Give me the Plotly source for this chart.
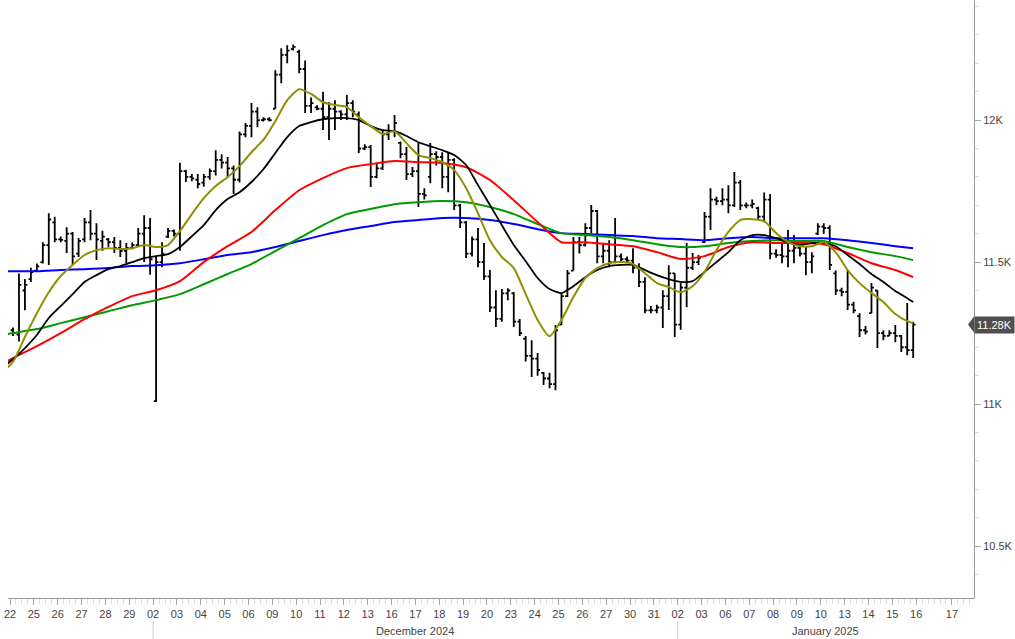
import plotly.graph_objects as go

# ---------------- data ----------------
day_labels = ['22', '25', '26', '27', '28', '29', '02', '03', '04', '05', '06', '09', '10', '11',
              '12', '13', '16', '17', '18', '19', '20', '23', '24', '25', '26', '27', '30', '31',
              '02', '03', '06', '07', '08', '09', '10', '13', '14', '15', '16']
future_label = '17'
month_labels = ['December 2024', 'January 2025']
month_start_day = [6, 28]   # index in day_labels where month begins
bars_per_day = 4

open_ = [11260, 11245, 11400, 11440,  11470, 11500, 11560, 11640,  11580, 11575, 11600, 11530,
         11580, 11640, 11600, 11575,  11580, 11570, 11550, 11540,  11550, 11560, 11600, 11620,
         11010, 11500, 11590, 11610,  11600, 11820, 11800, 11790,  11780, 11800, 11820, 11860,
         11850, 11830, 11790, 11950,  11980, 12030, 12000, 12003,  12040, 12160, 12230, 12250,
         12240, 12180, 12050, 12045,  12040, 12010, 12040, 12030,  12020, 12060, 12020, 11900,
         11905, 11800, 11830, 11950,  11960, 11920, 11880, 11810,  11820, 11740, 11800, 11880,
         11870, 11800, 11860, 11700,  11640, 11530, 11580, 11500,  11450, 11340, 11300, 11390,
         11390, 11290, 11230, 11170,  11160, 11110, 11090, 11070,  11280, 11380, 11470, 11570,
         11560, 11620, 11680, 11520,  11540, 11500, 11520, 11510,  11505, 11480, 11430, 11330,
         11330, 11340, 11380, 11460,  11280, 11410, 11480, 11500,  11570, 11660, 11720, 11715,
         11720, 11700, 11780, 11700,  11700, 11690, 11660, 11720,  11530, 11525, 11520, 11540,
         11550, 11530, 11500, 11600,  11625, 11620, 11460, 11400,  11395, 11350, 11310, 11260,
         11320, 11400, 11250, 11240,  11250, 11240, 11200, 11190]
high = [11270, 11460, 11440, 11480,  11495, 11570, 11672, 11660,  11590, 11623, 11606, 11585,
        11655, 11683, 11637, 11610,  11585, 11588, 11577, 11567,  11570, 11620, 11665, 11655,
        11520, 11570, 11620, 11615,  11850, 11825, 11810, 11810,  11810, 11830, 11894, 11880,
        11870, 11840, 11960, 11990,  12060, 12045, 12010, 12010,  12176, 12253, 12264, 12266,
        12248, 12210, 12080, 12052,  12100, 12063, 12070, 12035,  12088, 12070, 12030, 11915,
        11912, 11850, 11965, 11985,  12018, 11925, 11905, 11835,  11919, 11760, 11919, 11890,
        11887, 11885, 11866, 11705,  11645, 11590, 11620, 11567,  11472, 11401, 11405, 11408,
        11395, 11300, 11240, 11225,  11180, 11113, 11110, 11278,  11391, 11472, 11588, 11588,
        11637, 11701, 11683, 11567,  11577, 11655, 11530, 11520,  11549, 11496, 11447, 11345,
        11350, 11401, 11489, 11461,  11426, 11567, 11532, 11525,  11676, 11760, 11730, 11760,
        11771, 11817, 11789, 11710,  11720, 11695, 11745, 11740,  11545, 11567, 11613, 11595,
        11560, 11553, 11535, 11637,  11637, 11630, 11470, 11410,  11472, 11360, 11320, 11275,
        11426, 11401, 11260, 11260,  11278, 11243, 11356, 11290]
low = [11240, 11220, 11330, 11430,  11465, 11495, 11490, 11570,  11570, 11532, 11490, 11518,
       11570, 11577, 11507, 11540,  11553, 11532, 11518, 11497,  11545, 11555, 11500, 11455,
       11007, 11482, 11585, 11590,  11540, 11782, 11785, 11760,  11765, 11790, 11805, 11830,
       11800, 11740, 11780, 11940,  11940, 11975, 11995, 11995,  12040, 12130, 12200, 12245,
       12165, 12025, 12025, 12035,  11965, 11930, 11965, 12000,  12000, 12010, 11884, 11895,
       11764, 11795, 11824, 11930,  11940, 11866, 11789, 11800,  11694, 11720, 11778, 11840,
       11760, 11746, 11683, 11620,  11514, 11520, 11482, 11437,  11324, 11271, 11290, 11366,
       11271, 11240, 11150, 11095,  11100, 11067, 11056, 11049,  11278, 11377, 11470, 11530,
       11555, 11602, 11496, 11496,  11482, 11496, 11500, 11500,  11461, 11412, 11320, 11320,
       11320, 11268, 11331, 11236,  11262, 11341, 11472, 11490,  11567, 11613, 11700, 11700,
       11672, 11694, 11683, 11690,  11690, 11648, 11640, 11510,  11515, 11496, 11482, 11496,
       11520, 11454, 11461, 11595,  11600, 11472, 11384, 11380,  11331, 11320, 11236, 11245,
       11320, 11197, 11225, 11240,  11218, 11183, 11172, 11162]
close = [11250, 11420, 11420, 11465,  11485, 11560, 11650, 11580,  11578, 11600, 11520, 11575,
         11640, 11600, 11580, 11590,  11570, 11550, 11540, 11550,  11560, 11600, 11620, 11510,
         11500, 11530, 11610, 11600,  11820, 11800, 11795, 11775,  11800, 11820, 11860, 11850,
         11830, 11790, 11950, 11980,  12030, 12000, 12003, 12000,  12160, 12230, 12245, 12258,
         12180, 12050, 12060, 12040,  12010, 12040, 12030, 12020,  12060, 12030, 11900, 11905,
         11800, 11830, 11950, 11960,  11990, 11880, 11810, 11820,  11740, 11735, 11880, 11870,
         11800, 11860, 11700, 11640,  11530, 11580, 11500, 11450,  11340, 11300, 11390, 11400,
         11290, 11250, 11170, 11160,  11120, 11090, 11070, 11260,  11380, 11460, 11570, 11560,
         11620, 11680, 11520, 11540,  11500, 11520, 11510, 11505,  11480, 11430, 11330, 11330,
         11340, 11380, 11460, 11280,  11410, 11480, 11500, 11515,  11660, 11720, 11715, 11720,
         11700, 11780, 11700, 11700,  11705, 11660, 11720, 11530,  11525, 11520, 11540, 11550,
         11530, 11500, 11520, 11625,  11620, 11490, 11400, 11395,  11350, 11330, 11260, 11255,
         11410, 11250, 11240, 11250,  11240, 11200, 11190, 11280]

# moving averages, read at sample bars
fast_bars = [-1] + list(range(0, 152, 2)) + [151]
ma_olive = [11127,
            11148, 11236, 11320, 11394, 11451, 11490, 11525, 11542, 11549, 11546,
            11549, 11560, 11553, 11560, 11609, 11669, 11725, 11768, 11799, 11838,
            11887, 11930, 11996, 12070, 12109, 12092, 12063, 12053, 12046, 12010,
            11979, 11951, 11961, 11919, 11877, 11866, 11852, 11824, 11761, 11672,
            11577, 11518, 11479, 11387, 11296, 11239, 11296, 11377, 11444, 11479,
            11496, 11500, 11493, 11461, 11426, 11412, 11394, 11415, 11465, 11542,
            11606, 11648, 11651, 11644, 11602, 11570, 11556, 11556, 11570, 11535,
            11472, 11426, 11391, 11359, 11317, 11292,
            11285]
ma_black = [11141,
            11158, 11197, 11243, 11303, 11345, 11387, 11430, 11454, 11475, 11486,
            11500, 11514, 11521, 11528, 11553, 11591, 11630, 11683, 11722, 11746,
            11782, 11827, 11884, 11940, 11979, 11993, 12003, 12007, 12007, 12000,
            11979, 11965, 11961, 11944, 11922, 11908, 11894, 11877, 11842, 11771,
            11701, 11630, 11560, 11503, 11444, 11405, 11391, 11415, 11447, 11472,
            11486, 11490, 11490, 11472, 11454, 11440, 11430, 11433, 11465, 11500,
            11535, 11577, 11595, 11595, 11584, 11570, 11560, 11567, 11567, 11556,
            11525, 11493, 11458, 11430, 11398, 11373,
            11359]
slow_bars = [-1] + list(range(0, 152, 4)) + [151]
ma_red = [11151,
          11162, 11204, 11250, 11299, 11342, 11380, 11401, 11433, 11500, 11556,
          11606, 11683, 11753, 11796, 11831, 11845, 11856, 11852, 11849, 11834,
          11789, 11718, 11641, 11570, 11570, 11563, 11556, 11535, 11511, 11521,
          11553, 11570, 11567, 11567, 11563, 11532, 11496, 11472,
          11447]
ma_green = [11246,
            11250, 11264, 11285, 11306, 11327, 11348, 11366, 11387, 11422, 11458,
            11493, 11539, 11584, 11630, 11669, 11687, 11704, 11711, 11715, 11711,
            11694, 11669, 11634, 11602, 11595, 11588, 11577, 11563, 11553, 11556,
            11567, 11574, 11577, 11574, 11574, 11553, 11535, 11521,
            11507]
ma_blue = [11468,
           11468, 11468, 11472, 11475, 11479, 11486, 11489, 11496, 11510, 11525,
           11535, 11553, 11574, 11595, 11613, 11627, 11641, 11648, 11655, 11655,
           11648, 11634, 11616, 11602, 11599, 11595, 11592, 11584, 11581, 11577,
           11584, 11588, 11584, 11584, 11584, 11577, 11567, 11556,
           11549]

y_ticks = [10500, 11000, 11500, 12000]

assert len(open_) == len(high) == len(low) == len(close) == len(day_labels[:-1]) * bars_per_day
assert len(ma_olive) == len(fast_bars) and len(ma_black) == len(fast_bars)
assert len(ma_red) == len(slow_bars) == len(ma_green) == len(ma_blue)

# ---------------- figure ----------------
FONT = "Liberation Sans Narrow, Arial Narrow, Liberation Sans, Arial, sans-serif"
FS = 11
bar_x = list(range(len(close)))

fig = go.Figure()
for vals, col, w in [(ma_blue, '#0000ff', 2), (ma_green, '#009a00', 2), (ma_red, '#ff0000', 2)]:
    fig.add_trace(go.Scatter(x=slow_bars, y=vals, mode='lines',
                             line=dict(color=col, width=w, shape='spline', smoothing=0.6),
                             hoverinfo='skip'))
for vals, col, w in [(ma_black, '#000000', 1.8), (ma_olive, '#8f8f00', 2)]:
    fig.add_trace(go.Scatter(x=fast_bars, y=vals, mode='lines',
                             line=dict(color=col, width=w, shape='spline', smoothing=0.6),
                             hoverinfo='skip'))

fig.add_trace(go.Ohlc(x=bar_x, open=open_, high=high, low=low, close=close,
                      increasing=dict(line=dict(color='black', width=1.8)),
                      decreasing=dict(line=dict(color='black', width=1.8)),
                      tickwidth=0.4, hoverinfo='skip'))

n_days = len(day_labels)
tickvals = [bars_per_day * j - 0.5 for j in range(n_days)] + [bars_per_day * (n_days + 0.5) - 0.5]
ticktext = day_labels + [future_label]
x_range = [-0.84, 161.2]

fig.update_layout(
    width=1015, height=639,
    margin=dict(l=8, r=41, t=0, b=41),
    paper_bgcolor='white', plot_bgcolor='white',
    showlegend=False,
    font=dict(family=FONT, size=FS, color='#444'),
    xaxis=dict(range=x_range, tickmode='array', tickvals=tickvals, ticktext=ticktext,
               ticks='outside', ticklen=6, tickcolor='#aaaaaa', tickwidth=1,
               showline=True, linecolor='#9a9a9a', linewidth=1,
               showgrid=False, zeroline=False, rangeslider=dict(visible=False),
               tickfont=dict(family=FONT, size=FS, color='#444'),
               minor=dict(ticks='outside', ticklen=5, tickcolor='#dddddd', dtick=1, tick0=-0.5,
                          showgrid=False)),
    yaxis=dict(side='right', range=[10317, 12423], tickmode='array', tickvals=y_ticks,
               ticktext=[f"{v/1000:g}K" for v in y_ticks],
               ticks='outside', ticklen=6, tickcolor='#aaaaaa',
               showline=True, linecolor='#9a9a9a', linewidth=1,
               showgrid=False, zeroline=False,
               tickfont=dict(family=FONT, size=FS, color='#444'),
               minor=dict(ticks='outside', ticklen=4, tickcolor='#dddddd', dtick=100,
                          showgrid=False)),
)

# month labels and separators
month_bounds = [bars_per_day * d - 0.5 for d in month_start_day] + [x_range[1]]
for k, lab in enumerate(month_labels):
    mid = (month_bounds[k] + month_bounds[k + 1]) / 2
    fig.add_annotation(x=mid, xref='x', y=0, yref='paper', yanchor='middle', yshift=-33,
                       text=lab, showarrow=False, font=dict(family=FONT, size=FS, color='#444'))
    fig.add_shape(type='line', xref='x', yref='paper', x0=month_bounds[k], x1=month_bounds[k],
                  y0=-23 / 598, y1=-41 / 598, line=dict(color='#cccccc', width=1))

# last price marker
last = close[-1]
fig.add_annotation(x=1, xref='paper', xanchor='left', y=last, yref='y', yanchor='middle',
                   text=f"{last/1000:.2f}K", showarrow=False, bgcolor='#4f4f4f', borderpad=2,
                   font=dict(family=FONT, size=FS, color='white'))
fig.add_shape(type='path', xref='paper', xsizemode='pixel', xanchor=1,
              yref='y', ysizemode='pixel', yanchor=last,
              path='M -6,0 L 0,8 L 0,-8 Z', fillcolor='#4f4f4f', line=dict(width=0))

fig.write_html("out.html", config={'displayModeBar': False},
               post_script="document.body.style.margin='0';document.body.style.overflow='hidden';")
